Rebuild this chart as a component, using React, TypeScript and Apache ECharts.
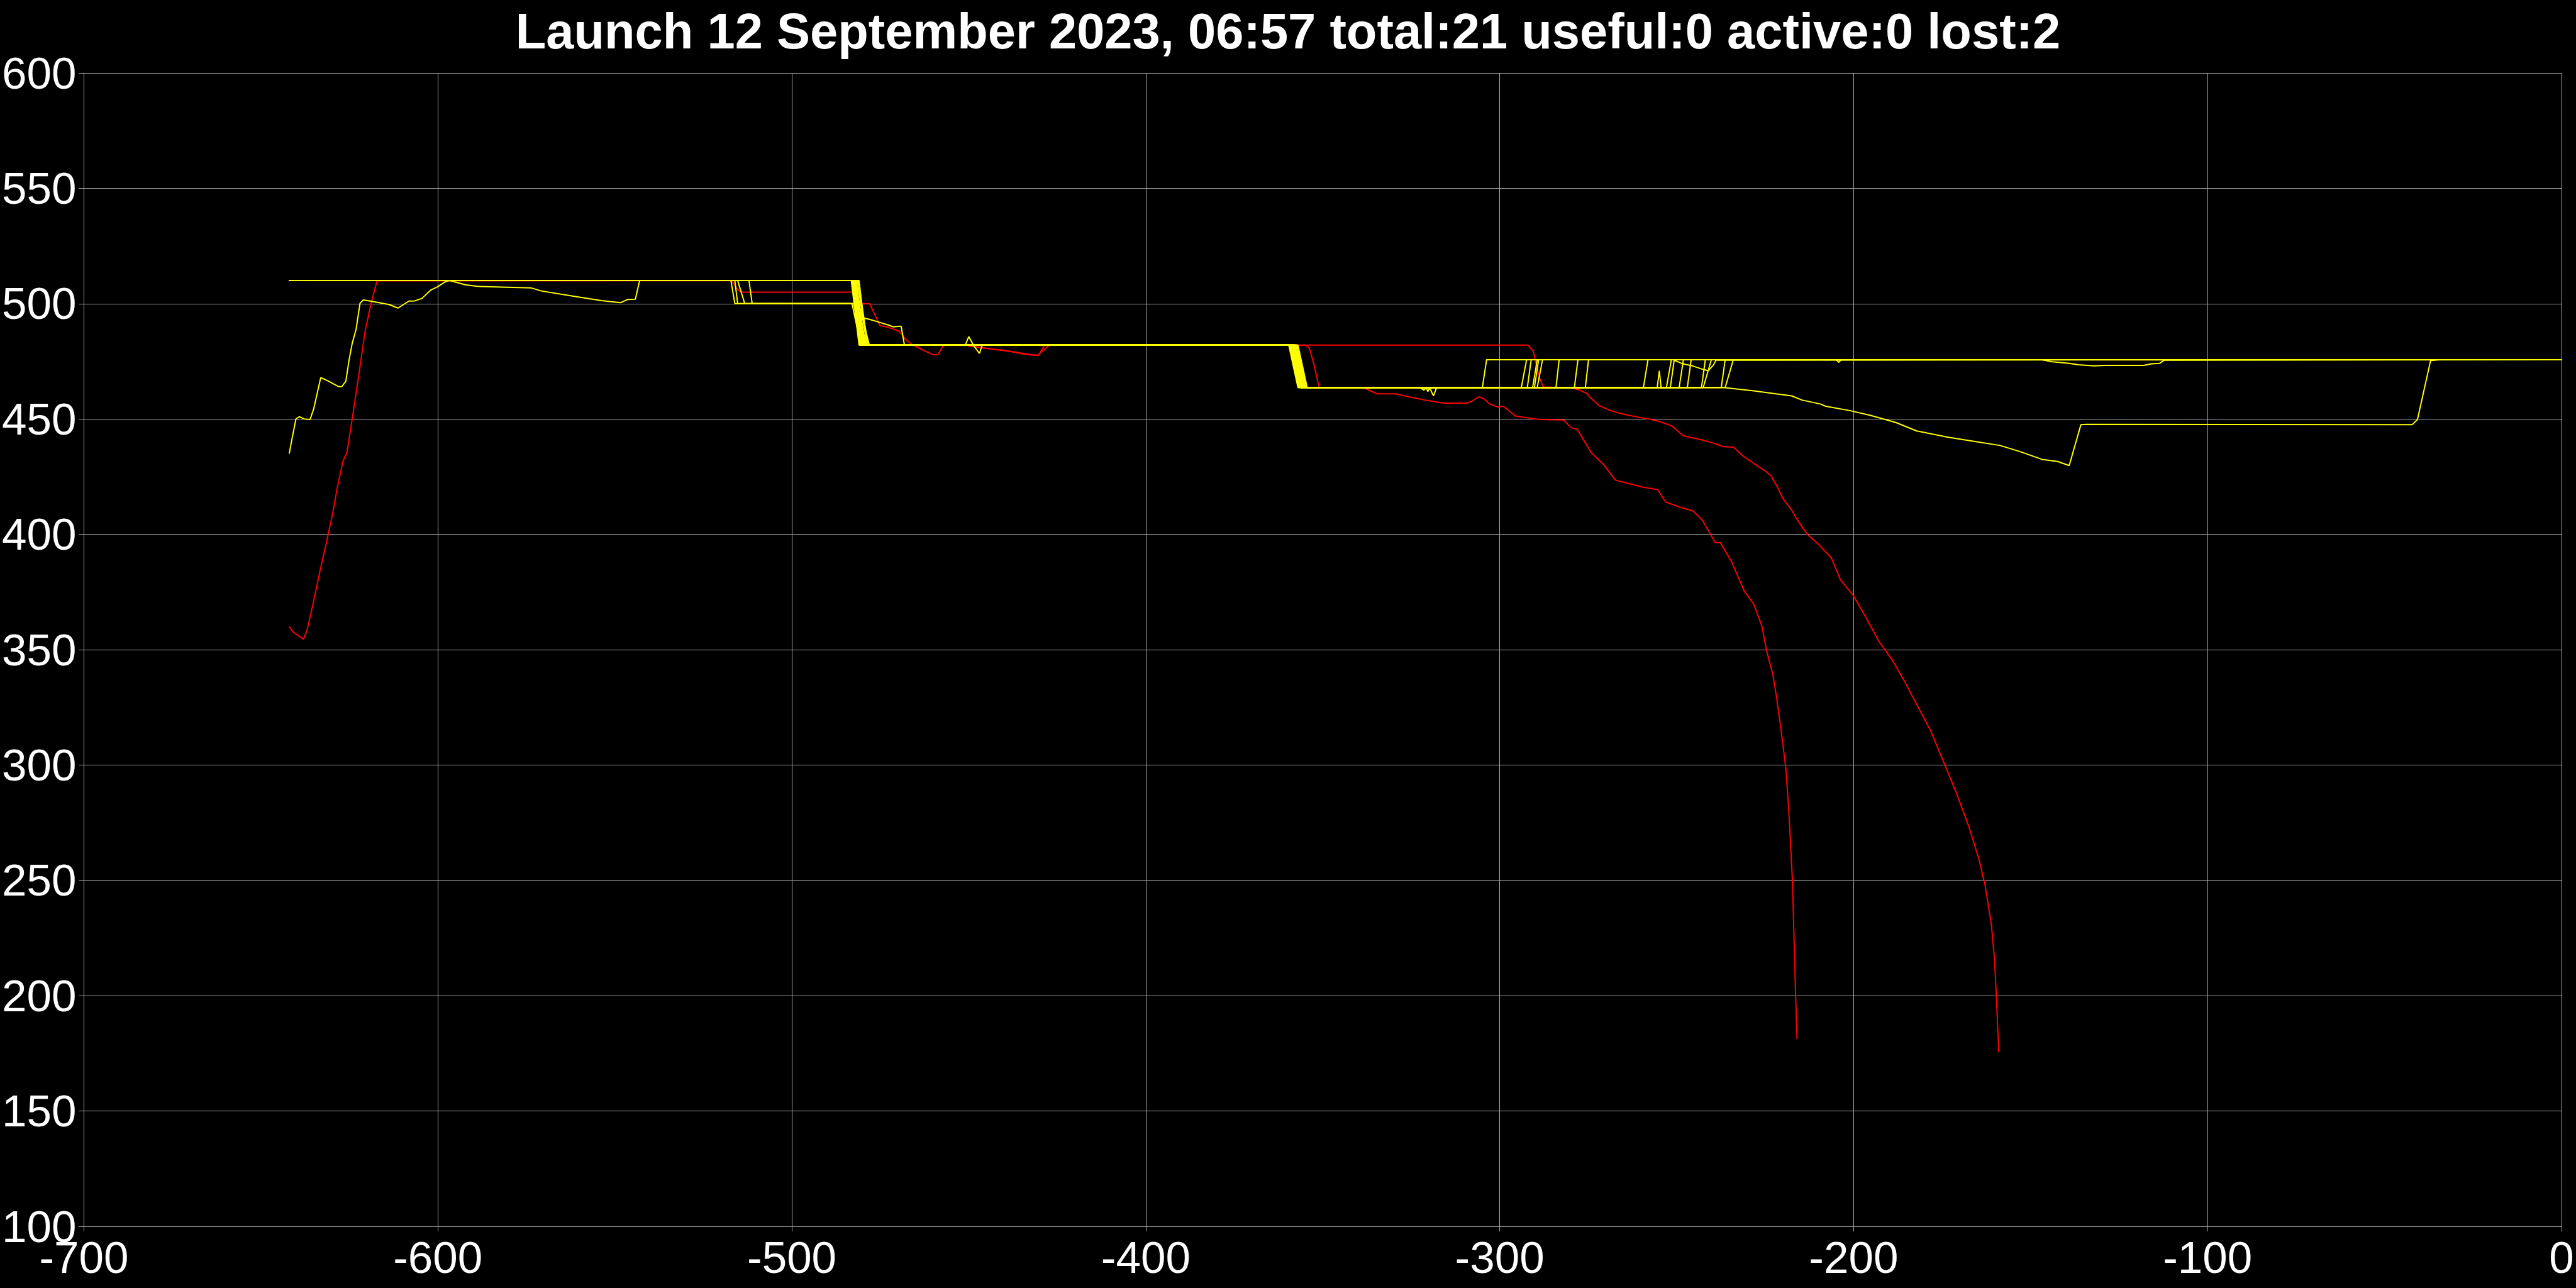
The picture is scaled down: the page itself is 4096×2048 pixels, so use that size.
import React, { useEffect, useRef } from "react";
import * as echarts from "echarts";

const titleText = "Launch 12 September 2023, 06:57 total:21 useful:0 active:0 lost:2";

const xTicks = { min: -700, max: 0, interval: 100 };
const yTicks = { min: 100, max: 600, interval: 50 };

// Lost satellites (red)
const redA: number[][] = [
  [-642, 360], [-641, 357.8], [-638, 354.5], [-637, 358.2], [-635.3, 369.7], [-633.1, 385.5],
  [-631.4, 397.1], [-629.7, 409.2], [-628.5, 419.5], [-626.8, 431.8], [-625.7, 435.4],
  [-624.2, 450], [-622.3, 469.5], [-620.6, 487.7], [-618.9, 499.9], [-617.2, 509.9],
  [-517, 510], [-515.5, 506.5], [-514.4, 505], [-482.5, 505], [-480.5, 500], [-478, 500],
  [-475.1, 490.5], [-472.7, 489.7], [-469.6, 488], [-468, 484.8], [-466.3, 482.5],
  [-464.6, 481.2], [-462.3, 479.4], [-460, 477.8], [-458.7, 478], [-457.2, 481.9],
  [-451, 482], [-445, 480.6], [-438, 479.2], [-432, 477.8], [-430.3, 477.6], [-428.6, 482],
  [-292, 482], [-290.5, 479.4], [-290, 475.6], [-288.8, 468], [-287.7, 463.9], [-279.8, 463.5],
  [-277.5, 462.6], [-275.3, 461], [-274.2, 459], [-271.9, 455.8], [-268.5, 453.5],
  [-265.1, 452.1], [-260.6, 450.7], [-257.2, 449.8], [-254.9, 448.9], [-251.5, 447.1],
  [-248.1, 442.7], [-243.6, 441.2], [-240.2, 439.8], [-236.8, 438], [-234, 437.8],
  [-231.2, 433.9], [-227.8, 430.3], [-225, 427.5], [-223.3, 425.3], [-221.6, 420.7],
  [-219.9, 415.3], [-217.6, 410.7], [-215.9, 406.2], [-213.1, 400], [-209.7, 395.3],
  [-206.3, 389.8], [-203.7, 380.2], [-200.1, 373.5], [-196.5, 363.9], [-192.8, 353.4],
  [-189.2, 345.8], [-185.6, 336.2], [-182, 325.7], [-178.3, 315.1], [-174.7, 301.8],
  [-171.1, 288.4], [-167.4, 273.1], [-164.7, 259.7], [-162.9, 248.2], [-161.1, 231],
  [-160.2, 215.7], [-159.7, 200.4], [-159, 175.5],
];

const redB: number[][] = [
  [-642, 510], [-483, 510], [-480, 482], [-451, 482], [-447, 481], [-440, 479.8],
  [-434, 478], [-430.6, 477.5], [-427.2, 482], [-354.9, 482], [-353.8, 480.7],
  [-352.6, 474.4], [-351, 463.6], [-338.5, 463.6], [-336.8, 462.4], [-334.6, 460.9],
  [-329.5, 460.9], [-325, 459.4], [-320.5, 458], [-315.9, 456.9], [-309.2, 456.9],
  [-307.5, 458], [-306, 459.6], [-304.6, 458.9], [-302.9, 456.6], [-300.7, 455.2],
  [-299, 455.5], [-295.6, 451.3], [-292.2, 450.5], [-288.8, 449.8], [-282, 449.6],
  [-279.8, 446.2], [-278.1, 445.5], [-274.1, 435.3], [-270.7, 430.3], [-267.3, 423.5],
  [-265.1, 422.6], [-259.4, 420.4], [-255.4, 419.4], [-253.1, 414], [-249, 411.7],
  [-245.4, 410.2], [-242.7, 406], [-239.1, 396.4], [-237.7, 396.4], [-234.5, 388.2],
  [-230.9, 375.4], [-228.2, 369.7], [-225.9, 360.1], [-224.6, 349.6], [-222.8, 339.1],
  [-221.8, 329.5], [-220.5, 315.1], [-219.1, 297.9], [-218.2, 276.9], [-217.3, 250.1],
  [-216.4, 200.4], [-216, 181.2],
];

// Other satellites (yellow)
const yellow1: number[][] = [
  [-642, 435], [-641.2, 441.5], [-640.1, 450], [-639.1, 451], [-637.8, 450], [-636.1, 449.8],
  [-635.1, 454.3], [-633.1, 467.9], [-631.4, 466.8], [-628, 464], [-627.1, 464.1],
  [-626, 466.4], [-625.1, 475.5], [-624.2, 482.8], [-623.1, 488.9], [-622, 500.1],
  [-621.1, 501.6], [-618.3, 500.9], [-613.8, 499.6], [-611.3, 498.1], [-610.1, 499.2],
  [-608.2, 501.1], [-606.5, 501.2], [-604.5, 502.3], [-601.9, 506], [-600.2, 507.2],
  [-598, 509.4], [-596.8, 510], [-595.7, 509.6], [-592.3, 508.2], [-588.9, 507.5],
  [-582.1, 507.2], [-573.6, 506.8], [-570.8, 505.5], [-561.7, 503.2], [-553.8, 501.3],
  [-548.4, 500.4], [-546.4, 501.8], [-544.2, 501.9], [-543, 510], [-482.5, 510],
  [-480, 482], [-359, 482], [-356.5, 463.6], [-304.9, 463.6], [-303.7, 475.7], [0, 475.7],
];
const yellow2: number[][] = [
  [-642, 510], [-481, 510], [-479.8, 493.8], [-478.1, 493.2], [-475.9, 492.2],
  [-472.5, 490.6], [-471.3, 489.9], [-469.6, 490.2], [-469.1, 490.1], [-468.2, 482.2],
  [-358.5, 482], [-356, 463.6], [-293.9, 463.6], [-292.4, 475.7], [0, 475.7],
];
const yellow3: number[][] = [
  [-642, 510], [-517.2, 510], [-516.1, 500], [-483, 500], [-480.5, 482], [-359.4, 482],
  [-356.8, 463.6], [-292.2, 463.6], [-291.1, 475.7], [0, 475.7],
];
const yellow4: number[][] = [
  [-642, 510], [-516.1, 510], [-515.3, 500], [-482.5, 500], [-480, 482], [-358.2, 482],
  [-355.5, 463.6], [-290.7, 463.6], [-289.4, 475.7], [0, 475.7],
];
const yellow5: number[][] = [
  [-642, 510], [-515.3, 510], [-513.3, 500], [-482, 500], [-479.5, 482], [-357.6, 482],
  [-355, 463.6], [-289.4, 463.6], [-287.9, 475.7], [0, 475.7],
];
const yellow6: number[][] = [
  [-642, 510], [-512.1, 510], [-511.2, 500], [-481.5, 500], [-479, 482], [-357, 482],
  [-354.4, 463.6], [-284.1, 463.6], [-283.2, 475.7], [0, 475.7],
];
const yellow7: number[][] = [
  [-642, 510], [-483, 510], [-480.8, 482], [-358.8, 482], [-356.3, 463.6], [-236.7, 463.6],
  [-227.8, 462.1], [-217.5, 460], [-214.6, 458.2], [-209.4, 456.5], [-207.9, 455.5],
  [-201.3, 453.7], [-195.4, 451.6], [-188.1, 448.5], [-182.2, 444.8], [-173.3, 442.1],
  [-166, 440.3], [-158.6, 438.5], [-152.7, 435.7], [-146.8, 432.5], [-142.4, 431.6],
  [-139.1, 429.8], [-135.8, 447.5], [-134.3, 447.7], [-42.2, 447.5], [-40.7, 449.8],
  [-37, 475.3], [-34.8, 475.7], [0, 475.7],
];
const yellow8: number[][] = [
  [-642, 510], [-482.8, 510], [-480.5, 482], [-451, 482], [-450, 485.7], [-448.7, 482],
  [-447, 478.4], [-446.2, 482], [-358, 482], [-355.5, 463.6], [-278.9, 463.6],
  [-277.9, 475.7], [0, 475.7],
];
const yellow9: number[][] = [
  [-642, 510], [-482.2, 510], [-479.8, 482], [-357.4, 482], [-355, 463.6], [-275.8, 463.6],
  [-274.9, 475.7], [0, 475.7],
];
const yellow10: number[][] = [
  [-642, 510], [-482, 510], [-479.2, 482], [-358.6, 482], [-356, 463.6], [-322.5, 463.6],
  [-321.4, 462.5], [-320.8, 463.5], [-320.3, 461.9], [-319.8, 463.5], [-318.7, 460],
  [-317.9, 463.4], [-259.4, 463.6], [-258.1, 475.7], [0, 475.7],
];
const yellow11: number[][] = [
  [-642, 510], [-481.8, 510], [-479.5, 482], [-357.8, 482], [-355.2, 463.6], [-255.5, 463.6],
  [-254.9, 470.9], [-254.4, 463.6], [-252.9, 463.6], [-251.5, 475.7], [0, 475.7],
];
const yellow12: number[][] = [
  [-642, 510], [-481.5, 510], [-478.8, 482], [-359.2, 482], [-356.6, 463.6], [-251.8, 463.6],
  [-250.7, 475.5], [-248.5, 474], [-245.5, 473], [-242.6, 471.5], [-241.1, 470.9],
  [-239.6, 473.4], [-238.9, 475.5], [0, 475.7],
];
const yellow13: number[][] = [
  [-642, 510], [-483.2, 510], [-481, 482], [-358.4, 482], [-355.9, 463.6], [-249.3, 463.6],
  [-248.1, 475.7], [0, 475.7],
];
const yellow14: number[][] = [
  [-642, 510], [-482.6, 510], [-480.2, 482], [-357.2, 482], [-354.6, 463.6], [-247, 463.6],
  [-245.9, 475.7], [0, 475.7],
];
const yellow15: number[][] = [
  [-642, 510], [-481.2, 510], [-478.5, 482], [-359.6, 482], [-357, 463.6], [-243, 463.6],
  [-241.9, 475.7], [-205, 475.7], [-204.2, 474.6], [-203.5, 475.7], [0, 475.7],
];
const yellow16: number[][] = [
  [-642, 510], [-482.4, 510], [-479.9, 482], [-358.9, 482], [-356.1, 463.6], [-242.5, 463.6],
  [-240.2, 475.7], [0, 475.7],
];
const yellow17: number[][] = [
  [-642, 510], [-481.9, 510], [-479.3, 482], [-357.5, 482], [-354.9, 463.6], [-237.4, 463.6],
  [-236.3, 475.7], [0, 475.7],
];
const yellow18: number[][] = [
  [-642, 510], [-483.1, 510], [-480.7, 482], [-358.3, 482], [-355.8, 463.6], [-236.3, 463.6],
  [-234, 475.7], [0, 475.7],
];
const yellow19: number[][] = [
  [-642, 510], [-482.7, 510], [-478.1, 482], [-359.1, 482], [-356.4, 463.6], [-290.2, 463.6],
  [-289, 475.7], [-146.8, 475.7], [-143.9, 474.8], [-139.4, 474.2], [-136.5, 473.5],
  [-132.1, 473], [-129.1, 473.2], [-118.1, 473.2], [-115.8, 473.9], [-113.6, 474.1],
  [-112.2, 475.5], [0, 475.7],
];

const redTracks = [redA, redB];
const yellowTracks = [
  yellow1, yellow2, yellow3, yellow4, yellow5, yellow6, yellow7, yellow8, yellow9, yellow10,
  yellow11, yellow12, yellow13, yellow14, yellow15, yellow16, yellow17, yellow18, yellow19,
];

const FONT = "Liberation Sans, Arial, sans-serif";
const GRID_COLOR = "#a8a8a8";

export default function App() {
  const ref = useRef<HTMLDivElement>(null);
  useEffect(() => {
    document.body.style.margin = "0";
    document.body.style.background = "#000";
    const chart = echarts.init(ref.current!, null, { renderer: "svg" });
    const mk = (data: number[][], color: string) => ({
      type: "line",
      data,
      showSymbol: false,
      symbol: "none",
      silent: true,
      lineStyle: { color, width: 2 },
      itemStyle: { color },
      emphasis: { disabled: true },
    });
    chart.setOption({
      animation: false,
      backgroundColor: "#000000",
      title: {
        text: titleText,
        left: "center",
        top: 4,
        textStyle: { color: "#ffffff", fontSize: 79.5, fontWeight: "bold", fontFamily: FONT },
      },
      grid: { left: 131, right: 23, top: 116, bottom: 98, containLabel: false },
      xAxis: {
        type: "value",
        min: xTicks.min,
        max: xTicks.max,
        interval: xTicks.interval,
        axisLine: { show: true, onZero: false, lineStyle: { color: GRID_COLOR, width: 1 } },
        axisTick: { show: true, length: 8, lineStyle: { color: GRID_COLOR, width: 1 } },
        axisLabel: { color: "#ffffff", fontSize: 71, fontFamily: FONT, margin: 14, showMinLabel: true, showMaxLabel: true },
        splitLine: { show: true, lineStyle: { color: GRID_COLOR, width: 1 } },
      },
      yAxis: {
        type: "value",
        min: yTicks.min,
        max: yTicks.max,
        interval: yTicks.interval,
        axisLine: { show: true, onZero: false, lineStyle: { color: GRID_COLOR, width: 1 } },
        axisTick: { show: true, length: 8, lineStyle: { color: GRID_COLOR, width: 1 } },
        axisLabel: { color: "#ffffff", fontSize: 71, fontFamily: FONT, margin: 12, showMinLabel: true, showMaxLabel: true },
        splitLine: { show: true, lineStyle: { color: GRID_COLOR, width: 1 } },
      },
      series: [
        ...redTracks.map((d) => mk(d, "#ff0000")),
        ...yellowTracks.map((d) => mk(d, "#ffff00")),
      ],
    });
    return () => chart.dispose();
  }, []);
  return (
    <div
      ref={ref}
      style={{ position: "absolute", left: 0, top: 0, width: 4096, height: 2048, background: "#000" }}
    />
  );
}
